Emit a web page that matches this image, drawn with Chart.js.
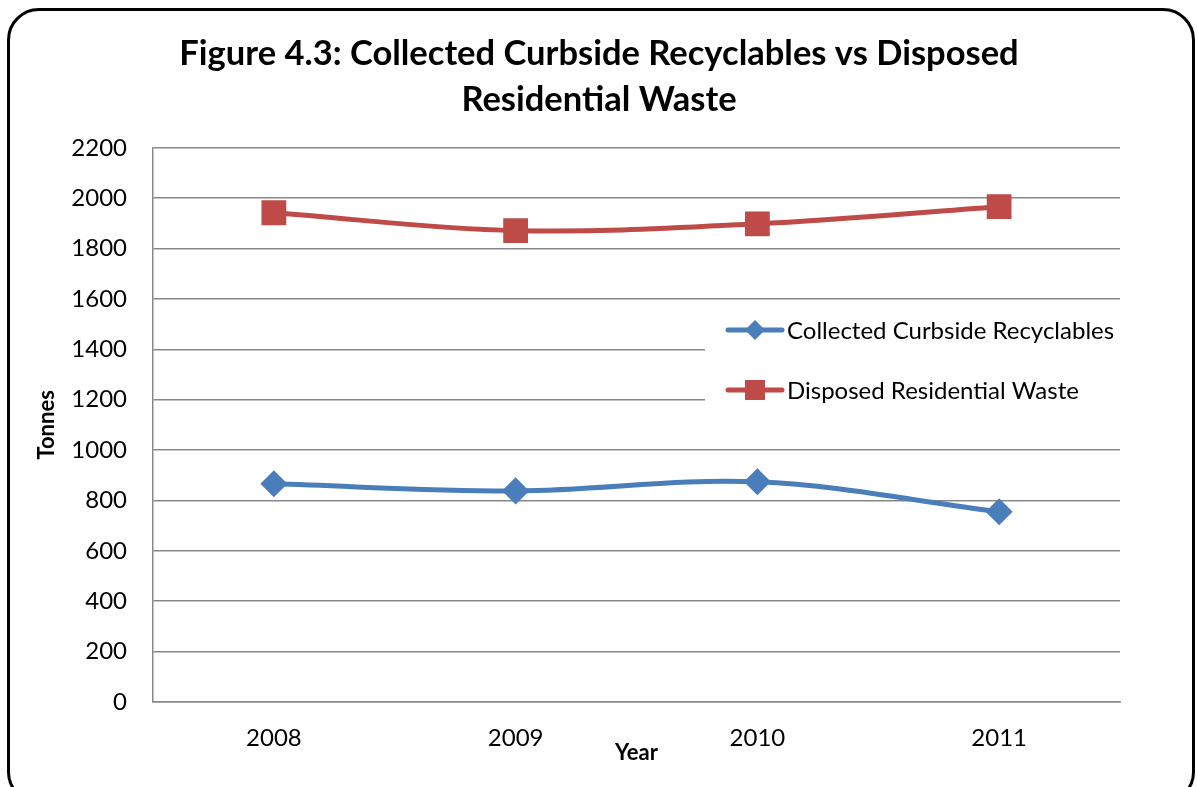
<!DOCTYPE html>
<html>
<head>
<meta charset="utf-8">
<script src="https://cdn.jsdelivr.net/npm/chart.js@4"></script>
<style>
  body { margin: 0; background: #fff; }
  #wrap { position: relative; width: 1198px; height: 787px; overflow: hidden; }
  #frame {
    position: absolute; left: 7px; top: 8px; width: 1182px; height: 790px;
    border: 3px solid #000; border-radius: 32px; pointer-events: none;
  }
</style>
</head>
<body>
<div id="wrap">
  <canvas id="chart" width="1198" height="787"></canvas>
  <div id="frame"></div>
</div>
<script>
const years = ["2008", "2009", "2010", "2011"];
const recyclables = [866, 838, 874, 755];
const disposed = [1942, 1871, 1898, 1966];
const yTicks = [0, 200, 400, 600, 800, 1000, 1200, 1400, 1600, 1800, 2000, 2200];

const FONT = "Lato, 'Open Sans', sans-serif";
const BLUE = "#4A7EBB";
const RED = "#BE4B48";

// legend box sitting inside the plot, over the gridlines
const insideLegend = {
  id: "insideLegend",
  afterDraw(chart) {
    const ctx = chart.ctx;
    const area = chart.chartArea;
    ctx.save();
    ctx.fillStyle = "#fff";
    ctx.fillRect(705, 306, area.right - 705 + 1, 115);
    const rows = [
      { ds: chart.data.datasets[0], y: 330 },
      { ds: chart.data.datasets[1], y: 390 },
    ];
    rows.forEach((r) => {
      ctx.strokeStyle = r.ds.borderColor;
      ctx.lineWidth = 5;
      ctx.lineCap = "round";
      ctx.beginPath();
      ctx.moveTo(728, r.y);
      ctx.lineTo(782, r.y);
      ctx.stroke();
      ctx.fillStyle = r.ds.borderColor;
      if (r.ds.pointStyle === "rect") {
        ctx.fillRect(745, r.y - 10, 20, 20);
      } else {
        ctx.beginPath();
        ctx.moveTo(755, r.y - 10);
        ctx.lineTo(765, r.y);
        ctx.lineTo(755, r.y + 10);
        ctx.lineTo(745, r.y);
        ctx.closePath();
        ctx.fill();
      }
      ctx.fillStyle = "#000";
      ctx.font = "24px " + FONT;
      ctx.textBaseline = "middle";
      ctx.fillText(r.ds.label, 787, r.y + 1);
    });
    ctx.restore();
  },
};

new Chart(document.getElementById("chart"), {
  type: "line",
  data: {
    labels: years,
    datasets: [
      {
        label: "Collected Curbside Recyclables",
        data: recyclables,
        borderColor: BLUE,
        backgroundColor: BLUE,
        borderWidth: 5,
        tension: 0.35,
        pointStyle: "rectRot",
        pointRadius: 10,
        pointHoverRadius: 10,
      },
      {
        label: "Disposed Residential Waste",
        data: disposed,
        borderColor: RED,
        backgroundColor: RED,
        borderWidth: 5,
        tension: 0.35,
        pointStyle: "rect",
        pointRadius: 14,
        pointHoverRadius: 14,
      },
    ],
  },
  options: {
    responsive: false,
    devicePixelRatio: 1,
    animation: false,
    layout: { padding: 0 },
    plugins: {
      legend: { display: false },
      tooltip: { enabled: false },
      title: {
        display: true,
        text: ["Figure 4.3: Collected Curbside Recyclables vs Disposed", "Residential Waste"],
        color: "#000",
        font: { family: FONT, size: 34.5, weight: "bold", lineHeight: 1.33 },
        padding: { top: 31, bottom: 25 },
      },
    },
    scales: {
      x: {
        offset: true,
        grid: { display: false },
        border: { display: true, color: "#888", width: 1.5 },
        ticks: { color: "#000", font: { family: FONT, size: 24 }, padding: 14 },
        title: {
          display: true,
          text: "Year",
          color: "#000",
          font: { family: FONT, size: 22, weight: "bold" },
          padding: { top: 0, bottom: 21 },
        },
        afterFit(scale) { scale.height = 85; },
      },
      y: {
        min: 0,
        max: 2200,
        afterBuildTicks(scale) { scale.ticks = yTicks.map((v) => ({ value: v })); },
        grid: { color: "#888", lineWidth: 1.5, drawTicks: false },
        border: { display: true, color: "#888", width: 1.5 },
        ticks: {
          color: "#000",
          font: { family: FONT, size: 24 },
          padding: 26,
          callback: (v) => String(v),
        },
        title: {
          display: true,
          text: "Tonnes",
          color: "#000",
          font: { family: FONT, size: 22, weight: "bold" },
          padding: { top: 34, bottom: 0 },
        },
        afterFit(scale) { scale.width = 153; },
      },
      // empty axis on the right only to keep the plot off the frame
      spacer: {
        axis: "y",
        position: "right",
        grid: { display: false },
        border: { display: false },
        ticks: { display: false },
        afterFit(scale) { scale.width = 78; },
      },
    },
  },
  plugins: [insideLegend],
});
</script>
</body>
</html>
